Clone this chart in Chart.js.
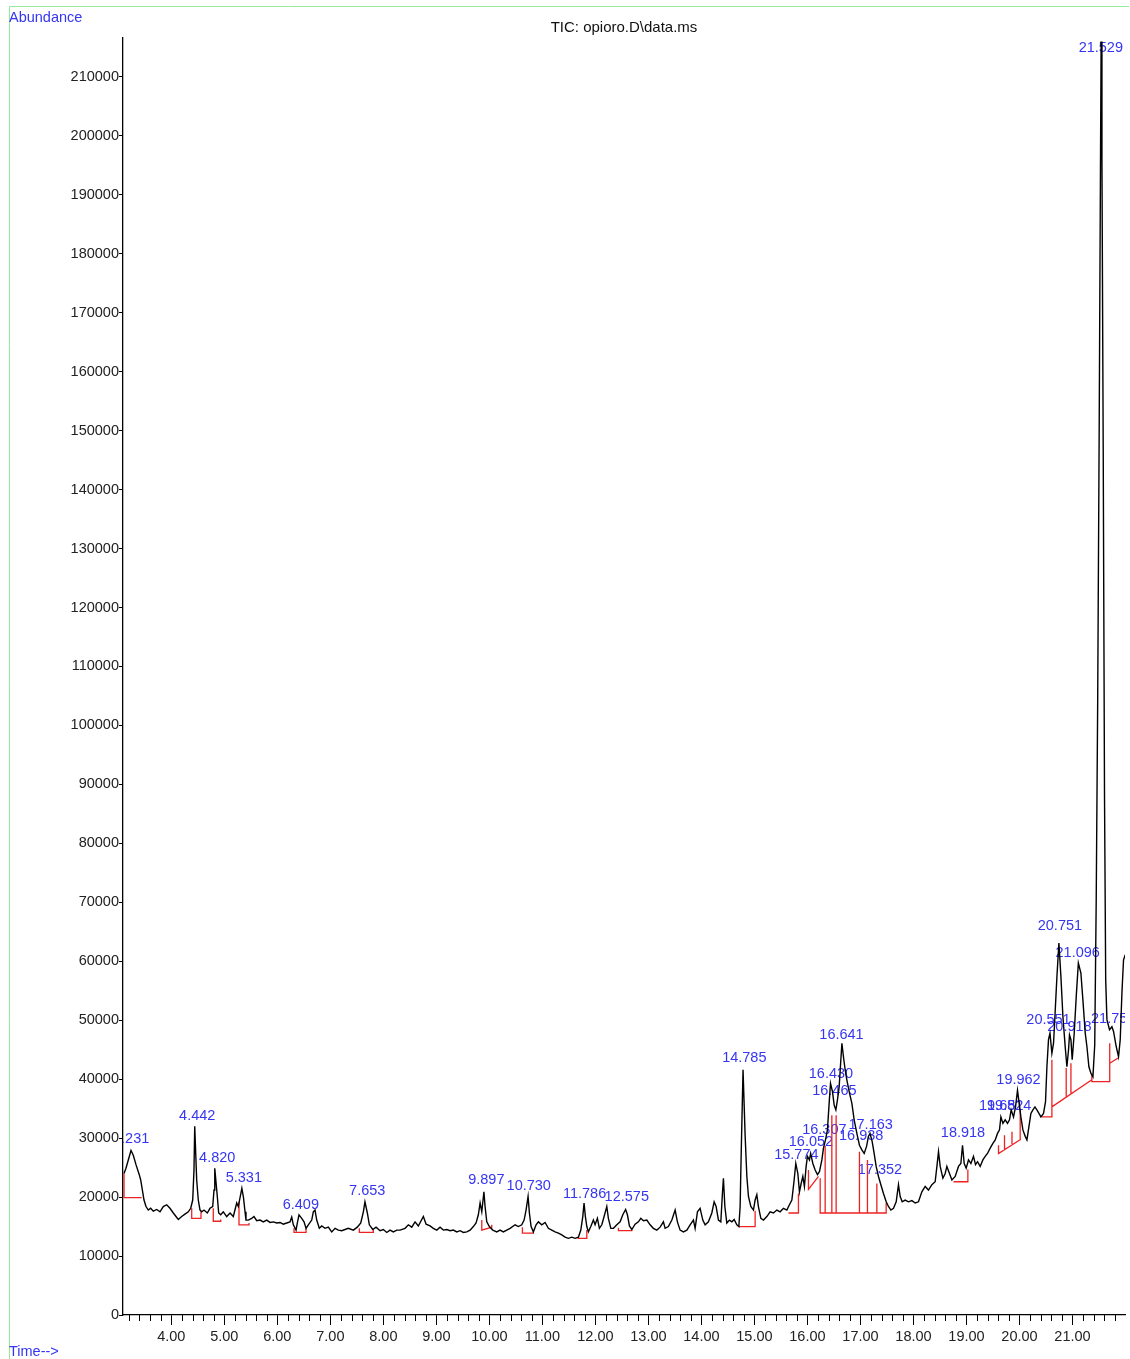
<!DOCTYPE html>
<html>
<head>
<meta charset="utf-8">
<title>TIC: opioro.D\data.ms</title>
<script src="https://cdn.jsdelivr.net/npm/chart.js@4.4.1/dist/chart.umd.min.js"></script>
<style>
  html, body { margin: 0; padding: 0; background: #fff; }
  #wrap { position: relative; width: 1130px; height: 1359px; }
</style>
</head>
<body>
<div id="wrap"><canvas id="tic"></canvas></div>
<script>
// retention time (min) and abundance of the total ion chromatogram
const traceTime = [
  3.108, 3.145, 3.189, 3.240, 3.283, 3.334, 3.396, 3.423, 3.460, 3.485, 3.523, 3.566, 3.611, 3.660, 3.725,
  3.787, 3.849, 3.913, 3.975, 4.038, 4.132, 4.196, 4.258, 4.321, 4.366, 4.404, 4.428, 4.442, 4.479, 4.509,
  4.542, 4.574, 4.617, 4.679, 4.730, 4.781, 4.806, 4.820, 4.868, 4.894, 4.932, 4.981, 5.045, 5.108, 5.170,
  5.234, 5.264, 5.331, 5.362, 5.391, 5.409, 5.453, 5.517, 5.560, 5.611, 5.674, 5.736, 5.800, 5.862, 5.925,
  5.989, 6.051, 6.113, 6.177, 6.240, 6.272, 6.302, 6.353, 6.377, 6.409, 6.460, 6.504, 6.542, 6.585, 6.649,
  6.679, 6.711, 6.743, 6.792, 6.838, 6.900, 6.962, 7.026, 7.089, 7.151, 7.215, 7.277, 7.340, 7.434, 7.509,
  7.574, 7.623, 7.653, 7.698, 7.736, 7.800, 7.862, 7.938, 8.000, 8.064, 8.126, 8.189, 8.253, 8.315, 8.409,
  8.472, 8.536, 8.598, 8.660, 8.755, 8.806, 8.881, 8.943, 9.008, 9.070, 9.132, 9.196, 9.258, 9.321, 9.385,
  9.447, 9.509, 9.574, 9.636, 9.698, 9.749, 9.792, 9.825, 9.857, 9.897, 9.919, 9.951, 10.000, 10.064, 10.140,
  10.202, 10.264, 10.328, 10.391, 10.485, 10.547, 10.611, 10.655, 10.692, 10.730, 10.755, 10.787, 10.830, 10.881, 10.925,
  10.989, 11.051, 11.113, 11.177, 11.240, 11.302, 11.366, 11.428, 11.491, 11.555, 11.617, 11.679, 11.725, 11.762, 11.786,
  11.811, 11.838, 11.868, 11.913, 11.962, 11.994, 12.038, 12.075, 12.121, 12.164, 12.215, 12.245, 12.291, 12.340, 12.404,
  12.466, 12.517, 12.570, 12.604, 12.642, 12.687, 12.749, 12.811, 12.857, 12.906, 12.970, 13.032, 13.094, 13.158, 13.221,
  13.283, 13.315, 13.377, 13.442, 13.504, 13.547, 13.598, 13.660, 13.725, 13.787, 13.849, 13.881, 13.925, 13.975, 14.026,
  14.070, 14.132, 14.196, 14.240, 14.277, 14.321, 14.366, 14.396, 14.415, 14.442, 14.479, 14.528, 14.574, 14.617, 14.668,
  14.706, 14.730, 14.749, 14.785, 14.825, 14.857, 14.887, 14.932, 14.981, 15.013, 15.045, 15.075, 15.121, 15.170, 15.234,
  15.296, 15.358, 15.423, 15.485, 15.547, 15.611, 15.660, 15.706, 15.749, 15.780, 15.819, 15.849, 15.881, 15.913, 15.943,
  15.975, 16.000, 16.038, 16.060, 16.102, 16.145, 16.189, 16.226, 16.272, 16.302, 16.340, 16.377, 16.409, 16.435, 16.472,
  16.504, 16.536, 16.566, 16.598, 16.630, 16.650, 16.679, 16.711, 16.743, 16.787, 16.838, 16.881, 16.932, 16.981, 17.026,
  17.070, 17.115, 17.150, 17.180, 17.221, 17.258, 17.296, 17.340, 17.385, 17.434, 17.485, 17.528, 17.574, 17.623, 17.674,
  17.717, 17.749, 17.787, 17.843, 17.906, 17.970, 18.032, 18.094, 18.158, 18.221, 18.283, 18.347, 18.409, 18.442, 18.472,
  18.504, 18.555, 18.598, 18.630, 18.679, 18.725, 18.787, 18.849, 18.894, 18.925, 18.957, 18.994, 19.038, 19.083, 19.132,
  19.170, 19.208, 19.258, 19.309, 19.353, 19.396, 19.447, 19.498, 19.542, 19.585, 19.623, 19.649, 19.687, 19.730, 19.774,
  19.811, 19.843, 19.887, 19.925, 19.962, 19.994, 20.026, 20.064, 20.108, 20.140, 20.177, 20.215, 20.253, 20.291, 20.328,
  20.366, 20.404, 20.453, 20.491, 20.517, 20.547, 20.575, 20.611, 20.642, 20.674, 20.706, 20.743, 20.781, 20.819, 20.862,
  20.894, 20.925, 20.943, 20.970, 20.994, 21.032, 21.070, 21.110, 21.158, 21.196, 21.240, 21.272, 21.309, 21.347, 21.385,
  21.419, 21.447, 21.475, 21.504, 21.528, 21.540, 21.555, 21.579, 21.604, 21.626, 21.649, 21.698, 21.743, 21.774, 21.825,
  21.868, 21.900, 21.932, 21.962, 21.994
];
const traceAbund = [
  24000, 24900, 26300, 27900, 27100, 25500, 23800, 22900, 20900, 19500, 18400, 17800, 18100, 17600, 17900,
  17500, 18400, 18700, 18100, 17300, 16200, 16700, 17100, 17500, 18100, 19500, 24600, 32000, 22900, 19500,
  17800, 17500, 17800, 17300, 18100, 18400, 21200, 24900, 20100, 17300, 17000, 17500, 16700, 17300, 16700,
  19000, 18400, 21500, 19900, 17500, 16100, 16100, 16400, 16700, 16000, 16100, 15800, 16100, 15700, 15800,
  15600, 15700, 15400, 15600, 15800, 16600, 15300, 14400, 15600, 17000, 16400, 15800, 14700, 15300, 16100,
  17500, 17800, 16100, 14700, 15100, 14700, 14900, 14100, 14700, 14400, 14300, 14500, 14700, 14400, 14900,
  15600, 17500, 19200, 17300, 15300, 14500, 14900, 14300, 14500, 14000, 14400, 14100, 14400, 14400, 14700,
  15300, 14900, 15800, 15100, 16700, 15400, 15100, 14700, 14400, 14900, 14400, 14500, 14300, 14400, 14100,
  14300, 14000, 14100, 14400, 15000, 15600, 17000, 19000, 17500, 20900, 18400, 15800, 15000, 14400, 14100,
  14400, 14100, 14400, 14700, 15300, 15000, 15300, 16100, 17800, 20100, 17300, 15000, 14100, 15300, 15800,
  15300, 15700, 14700, 14400, 14100, 13900, 13600, 13200, 13000, 13200, 13000, 13200, 14400, 16700, 19000,
  16700, 15000, 14100, 15000, 16100, 15300, 16400, 14700, 15300, 16700, 18400, 16400, 14700, 14700, 15300,
  15800, 17000, 17900, 17000, 15100, 14500, 15400, 15800, 16400, 16000, 16100, 15300, 14700, 14400, 14900,
  15800, 14700, 15000, 16100, 17800, 15800, 14400, 14100, 14400, 15300, 16100, 14700, 17500, 18100, 16100,
  15300, 15800, 17300, 19200, 18400, 16100, 15800, 20600, 23200, 18400, 15600, 16100, 15800, 16200, 15300,
  15000, 18400, 26900, 41600, 30300, 23500, 20100, 18400, 17800, 19500, 20400, 18400, 16400, 16100, 16700,
  17500, 17300, 17800, 17500, 18100, 17800, 18700, 19500, 22900, 25700, 24000, 20900, 22300, 23500, 21800,
  25200, 26900, 26300, 27400, 25700, 24600, 23800, 24300, 26300, 28300, 29700, 31400, 35900, 39300, 37900,
  35600, 34800, 36500, 38700, 43300, 46100, 43800, 41600, 39900, 37900, 35900, 33100, 30800, 28800, 28000,
  27400, 28600, 30300, 30800, 29400, 27400, 25200, 23500, 22100, 20600, 19200, 18400, 17800, 18100, 19200,
  22100, 20100, 19200, 19500, 19200, 19400, 19000, 19200, 20900, 21800, 21200, 22100, 22600, 25200, 27700,
  25200, 23200, 24000, 25200, 24000, 22900, 23500, 25200, 25700, 28800, 25700, 24900, 26300, 25700, 26900,
  25500, 26000, 25200, 26300, 26900, 27400, 28300, 29100, 29700, 30800, 31400, 33600, 32500, 33100, 32500,
  33100, 34800, 33600, 35300, 38100, 35900, 33600, 31400, 30300, 29700, 31900, 34200, 34800, 35300, 34800,
  34200, 33600, 34200, 36200, 42100, 46700, 47800, 44400, 46100, 51700, 57400, 63100, 57400, 50600, 45500,
  42100, 45000, 47500, 46700, 43300, 47800, 54000, 59700, 58000, 53400, 47800, 45500, 42100, 41000, 40400,
  45800, 70400, 104300, 151900, 196000, 216000, 196000, 146800, 87400, 56800, 50100, 48400, 48900, 48100, 45500,
  43800, 46700, 54600, 60200, 61100
];

// red integration baselines and drop lines; null ends a segment
const baseTime = [
  3.108, 3.108, 3.442, null,
  4.385, 4.385, 4.560, 4.560, null,
  4.792, 4.792, 4.932, 4.932, null,
  5.277, 5.277, 5.466, 5.466, null,
  6.315, 6.315, 6.542, 6.542, null,
  7.547, 7.547, 7.811, 7.811, null,
  9.857, 9.857, 10.045, 10.045, null,
  10.623, 10.623, 10.830, 10.830, null,
  11.679, 11.679, 11.838, 11.838, null,
  12.434, 12.434, 12.687, 12.687, null,
  14.698, 15.013, 15.013, null,
  15.642, 15.830, 15.830, null,
  16.019, 16.019, 16.208, null,
  16.240, 16.240, 17.485, 17.485, null,
  16.334, 16.334, null, 16.460, 16.460, null, 16.541, 16.541, null,
  16.981, 16.981, null, 17.132, 17.132, null, 17.309, 17.309, null,
  18.755, 19.026, 19.026, null,
  19.604, 19.604, 20.026, null,
  19.717, 19.717, null, 19.858, 19.858, null, 20.013, 20.013, null,
  20.423, 20.611, 20.611, null,
  20.611, 21.365, null,
  20.881, 20.881, null, 20.970, 20.970, null,
  21.365, 21.365, 21.702, 21.702, null,
  21.702, 21.859
];
const baseAbund = [
  24000, 19900, 19900, null,
  18100, 16400, 16400, 17500, null,
  18100, 15900, 15900, 16200, null,
  19200, 15300, 15300, 15600, null,
  14700, 14000, 14000, 14700, null,
  14700, 14000, 14000, 14500, null,
  16100, 14400, 14900, 15300, null,
  14900, 13900, 13900, 14100, null,
  13200, 13000, 13000, 14400, null,
  14800, 14300, 14300, 14500, null,
  15000, 15000, 17700, null,
  17300, 17300, 20600, null,
  24600, 21300, 23500, null,
  23200, 17300, 17300, 19000, null,
  28700, 17300, null, 33900, 17300, null, 33900, 17300, null,
  27700, 17300, null, 26300, 17300, null, 22300, 17300, null,
  22600, 22600, 24700, null,
  28800, 27400, 29800, null,
  30500, 28000, null, 31100, 29000, null, 34800, 29700, null,
  33600, 33600, 43300, null,
  35300, 39900, null,
  41900, 37000, null, 42700, 37500, null,
  41000, 39600, 39600, 46100, null,
  42700, 43600
];

// peak annotations: text and where its centre sits
const peakNames = [
  '3.231', '4.442', '4.820', '5.331', '6.409', '7.653', '9.897', '10.730', '11.786', '12.575',
  '14.785', '15.774', '16.052', '16.307', '16.430', '16.465', '16.641', '16.938', '17.163', '17.352',
  '18.918', '19.651', '19.824', '19.962', '20.551', '20.751', '20.918', '21.096', '21.529', '21.755'
];
const peakLabelTime = [
  3.243, 4.489, 4.866, 5.368, 6.443, 7.696, 9.942, 10.743, 11.796, 12.592,
  14.809, 15.791, 16.066, 16.319, 16.443, 16.508, 16.642, 17.013, 17.192, 17.368,
  18.934, 19.655, 19.806, 19.981, 20.547, 20.762, 20.942, 21.098, 21.534, 21.768
];
const peakLabelAbund = [
  29800, 33800, 26700, 23300, 18700, 21000, 22900, 21800, 20500, 20000,
  43600, 27200, 29400, 31400, 40900, 38000, 47500, 30400, 32300, 24600,
  30800, 35400, 35400, 39900, 50100, 65900, 48800, 61400, 214900, 50200
];

const xTickValues = [4, 5, 6, 7, 8, 9, 10, 11, 12, 13, 14, 15, 16, 17, 18, 19, 20, 21];
const yTickValues = [
  0, 10000, 20000, 30000, 40000, 50000, 60000, 70000, 80000, 90000, 100000,
  110000, 120000, 130000, 140000, 150000, 160000, 170000, 180000, 190000, 200000, 210000
];

const BLUE = '#3535f2';
const RED = '#ee2222';
const FONT = '"Liberation Sans", Arial, sans-serif';

const toPoints = (ts, as) => {
  let last = ts[0];
  return ts.map((t, i) => {
    if (t === null) return { x: last, y: null };
    last = t;
    return { x: t, y: as[i] };
  });
};

const peakLabels = {
  id: 'peakLabels',
  beforeDatasetsDraw(chart) {
    const { ctx, chartArea: a, scales: { x, y } } = chart;
    ctx.save();
    ctx.beginPath();
    ctx.rect(a.left, 0, a.right - a.left, a.bottom);
    ctx.clip();
    ctx.font = '14.5px ' + FONT;
    ctx.fillStyle = BLUE;
    ctx.textAlign = 'center';
    ctx.textBaseline = 'middle';
    peakNames.forEach((name, i) => {
      ctx.fillText(name, x.getPixelForValue(peakLabelTime[i]), y.getPixelForValue(peakLabelAbund[i]));
    });
    ctx.restore();
  }
};

const frame = {
  id: 'frame',
  afterDraw(chart) {
    const { ctx, chartArea: a, scales: { x } } = chart;
    ctx.save();
    // minor time ticks every 0.2 min
    ctx.strokeStyle = '#000';
    ctx.lineWidth = 1;
    ctx.beginPath();
    for (let k = 32; k <= 218; k += 2) {
      if (k % 10 === 0) continue;
      const px = Math.round(x.getPixelForValue(k / 10)) + 0.5;
      ctx.moveTo(px, a.bottom);
      ctx.lineTo(px, a.bottom + 6);
    }
    ctx.stroke();

    // green page frame
    ctx.strokeStyle = '#95eb95';
    ctx.beginPath();
    ctx.moveTo(9.5, 1359);
    ctx.lineTo(9.5, 6.5);
    ctx.lineTo(1129, 6.5);
    ctx.stroke();

    ctx.font = '14.5px ' + FONT;
    ctx.textBaseline = 'middle';
    ctx.fillStyle = BLUE;
    ctx.textAlign = 'left';
    ctx.fillText('Abundance', 9, 18);
    ctx.fillText('Time-->', 9, 1352);

    ctx.fillStyle = '#111';
    ctx.textAlign = 'center';
    ctx.font = '15px ' + FONT;
    ctx.fillText('TIC: opioro.D\\data.ms', (a.left + a.right) / 2, 28);
    ctx.restore();
  }
};

new Chart(document.getElementById('tic'), {
  type: 'line',
  data: {
    datasets: [
      {
        data: toPoints(traceTime, traceAbund),
        borderColor: '#000',
        borderWidth: 1.4,
        pointRadius: 0,
        tension: 0,
      },
      {
        data: toPoints(baseTime, baseAbund),
        borderColor: RED,
        borderWidth: 1.3,
        pointRadius: 0,
        tension: 0,
        spanGaps: false,
      },
    ],
  },
  options: {
    responsive: true,
    maintainAspectRatio: false,
    animation: false,
    events: [],
    layout: { padding: { top: 38, right: 5, left: 0, bottom: 0 } },
    plugins: {
      legend: { display: false },
      tooltip: { enabled: false },
    },
    scales: {
      x: {
        type: 'linear',
        min: 3.089,
        max: 21.99,
        afterBuildTicks: (s) => { s.ticks = xTickValues.map((v) => ({ value: v })); },
        afterFit: (s) => { s.height = 44; },
        grid: { drawOnChartArea: false, tickLength: 10, color: '#000', tickWidth: 1 },
        border: { color: '#000', width: 1.3 },
        ticks: {
          callback: (v) => Number(v).toFixed(2),
          color: '#222',
          font: { family: FONT, size: 14.5 },
          padding: 3,
          maxRotation: 0,
          autoSkip: false,
        },
      },
      y: {
        min: 0,
        max: 216600,
        afterBuildTicks: (s) => { s.ticks = yTickValues.map((v) => ({ value: v })); },
        afterFit: (s) => { s.width = 123; },
        grid: { drawOnChartArea: false, tickLength: 4, color: '#000', tickWidth: 1 },
        border: { color: '#000', width: 1.3 },
        ticks: {
          callback: (v) => String(v),
          color: '#222',
          font: { family: FONT, size: 14.5 },
          padding: 0,
          autoSkip: false,
        },
      },
    },
  },
  plugins: [peakLabels, frame],
});
</script>
</body>
</html>
